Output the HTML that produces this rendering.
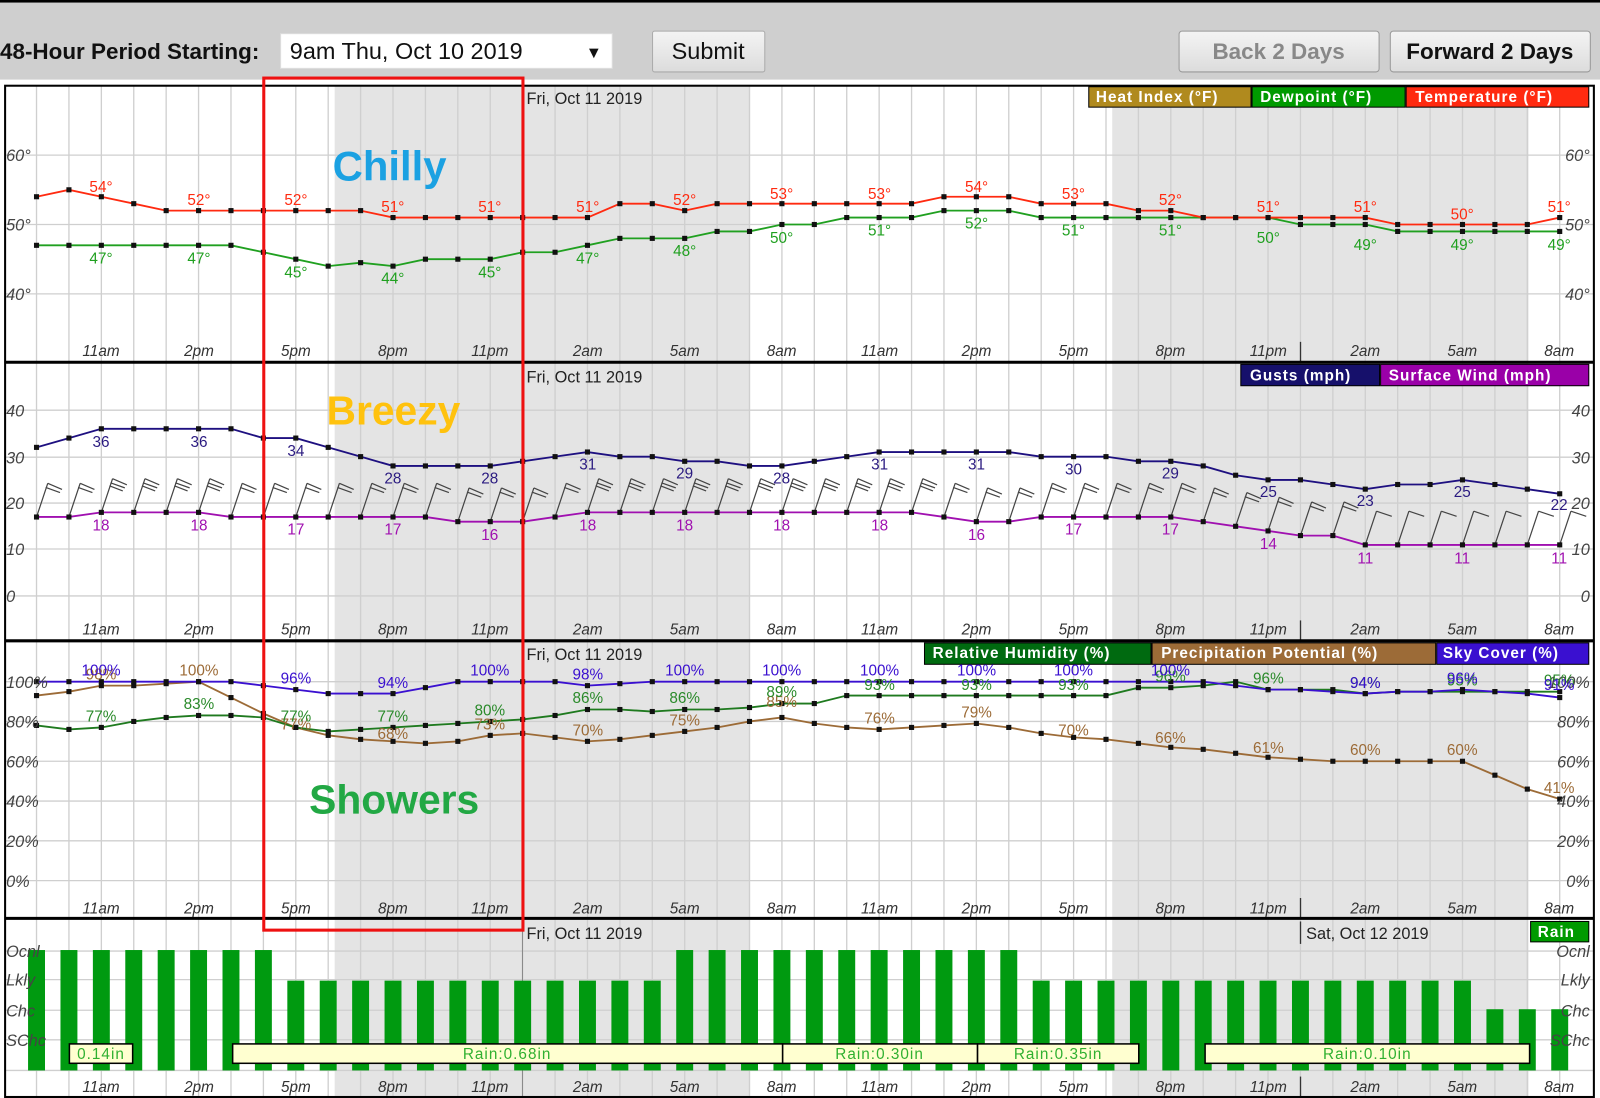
<!DOCTYPE html>
<html><head><meta charset="utf-8"><style>
html,body{margin:0;padding:0;background:#fff;overflow:hidden}
svg{display:block}
text{font-family:"Liberation Sans",sans-serif}
.tl{font-size:15px;font-style:italic;fill:#333;text-anchor:middle}
.ya{font-size:16px;font-style:italic;fill:#444}
.yr{font-size:16px;font-style:italic;fill:#444;text-anchor:end}
.lg{font-size:15px;font-weight:bold;fill:#fff;letter-spacing:1px}
.v{font-size:15px;text-anchor:middle}
.dt{font-size:16px;fill:#222}
</style></head><body>
<svg id="s" width="1600" height="1098" viewBox="0 0 1568 1076" preserveAspectRatio="none" xmlns="http://www.w3.org/2000/svg">
<defs><linearGradient id="bg" x1="0" y1="0" x2="0" y2="1"><stop offset="0" stop-color="#f4f4f4"/><stop offset="1" stop-color="#dcdcdc"/></linearGradient></defs>
<rect x="0" y="0" width="1568" height="78" fill="#cfcfcf"/>
<rect x="0" y="0" width="1568" height="2.5" fill="#000"/>
<text x="0" y="58" style="font-size:22px;font-weight:bold;fill:#111">48-Hour Period Starting:</text>
<rect x="275" y="33" width="325" height="34" fill="#fff" stroke="#ddd"/>
<text x="284" y="58" style="font-size:23px;fill:#111">9am Thu, Oct 10 2019</text>
<text x="574" y="57" style="font-size:16px;fill:#111">▼</text>
<rect x="639.5" y="30.5" width="110" height="40" rx="2" fill="url(#bg)" stroke="#aaa"/>
<text x="694" y="58" style="font-size:23px;fill:#111;text-anchor:middle">Submit</text>
<rect x="1155.5" y="30.5" width="196" height="40" rx="3" fill="url(#bg)" stroke="#999"/>
<text x="1253" y="58" style="font-size:22px;fill:#888;text-anchor:middle;font-weight:bold">Back 2 Days</text>
<rect x="1362.5" y="30.5" width="196" height="40" rx="3" fill="url(#bg)" stroke="#999"/>
<text x="1460" y="58" style="font-size:22px;fill:#111;text-anchor:middle;font-weight:bold">Forward 2 Days</text>

<g id="shapes"></g>

<text class="dt" x="516" y="102">Fri, Oct 11 2019</text>
<text class="dt" x="516" y="375">Fri, Oct 11 2019</text>
<text class="dt" x="516" y="647">Fri, Oct 11 2019</text>
<text class="dt" x="516" y="920">Fri, Oct 11 2019</text>
<text class="dt" x="1280" y="920">Sat, Oct 12 2019</text>

<rect x="1067" y="85" width="159" height="20" fill="#b08a1e" stroke="#000"/><text class="lg" x="1074" y="100">Heat Index (°F)</text>
<rect x="1227" y="85" width="150" height="20" fill="#009a00" stroke="#000"/><text class="lg" x="1235" y="100">Dewpoint (°F)</text>
<rect x="1378" y="85" width="179" height="20" fill="#ff2a10" stroke="#000"/><text class="lg" x="1387" y="100">Temperature (°F)</text>
<rect x="1216" y="357" width="136" height="21" fill="#16106b" stroke="#000"/><text class="lg" x="1225" y="373">Gusts (mph)</text>
<rect x="1353" y="357" width="204" height="21" fill="#9a00a8" stroke="#000"/><text class="lg" x="1361" y="373">Surface Wind (mph)</text>
<rect x="906" y="630" width="222" height="21" fill="#006a10" stroke="#000"/><text class="lg" x="914" y="645">Relative Humidity (%)</text>
<rect x="1129" y="630" width="278" height="21" fill="#9c6b37" stroke="#000"/><text class="lg" x="1138" y="645">Precipitation Potential (%)</text>
<rect x="1408" y="630" width="149" height="21" fill="#3a10d0" stroke="#000"/><text class="lg" x="1414" y="645">Sky Cover (%)</text>
<rect x="1500" y="903" width="57" height="20" fill="#009a00" stroke="#000"/><text class="lg" x="1507" y="918">Rain</text>

<g>
<text class="ya" x="6" y="158">60°</text><text class="ya" x="6" y="226">50°</text><text class="ya" x="6" y="294">40°</text>
<text class="yr" x="1558" y="158">60°</text><text class="yr" x="1558" y="226">50°</text><text class="yr" x="1558" y="294">40°</text>
<text class="ya" x="6" y="408">40</text><text class="ya" x="6" y="454">30</text><text class="ya" x="6" y="499">20</text><text class="ya" x="6" y="544">10</text><text class="ya" x="6" y="590">0</text>
<text class="yr" x="1558" y="408">40</text><text class="yr" x="1558" y="454">30</text><text class="yr" x="1558" y="499">20</text><text class="yr" x="1558" y="544">10</text><text class="yr" x="1558" y="590">0</text>
<text class="ya" x="6" y="674">100%</text><text class="ya" x="6" y="713">80%</text><text class="ya" x="6" y="752">60%</text><text class="ya" x="6" y="791">40%</text><text class="ya" x="6" y="830">20%</text><text class="ya" x="6" y="869">0%</text>
<text class="yr" x="1558" y="674">100%</text><text class="yr" x="1558" y="713">80%</text><text class="yr" x="1558" y="752">60%</text><text class="yr" x="1558" y="791">40%</text><text class="yr" x="1558" y="830">20%</text><text class="yr" x="1558" y="869">0%</text>
<text class="ya" x="6" y="938">Ocnl</text><text class="ya" x="6" y="966">Lkly</text><text class="ya" x="6" y="996">Chc</text><text class="ya" x="6" y="1025">SChc</text>
<text class="yr" x="1558" y="938">Ocnl</text><text class="yr" x="1558" y="966">Lkly</text><text class="yr" x="1558" y="996">Chc</text><text class="yr" x="1558" y="1025">SChc</text>
</g>

<g>
<text class="tl" x="99" y="349">11am</text><text class="tl" x="195" y="349">2pm</text><text class="tl" x="290" y="349">5pm</text><text class="tl" x="385" y="349">8pm</text><text class="tl" x="480" y="349">11pm</text><text class="tl" x="576" y="349">2am</text><text class="tl" x="671" y="349">5am</text><text class="tl" x="766" y="349">8am</text><text class="tl" x="862" y="349">11am</text><text class="tl" x="957" y="349">2pm</text><text class="tl" x="1052" y="349">5pm</text><text class="tl" x="1147" y="349">8pm</text><text class="tl" x="1243" y="349">11pm</text><text class="tl" x="1338" y="349">2am</text><text class="tl" x="1433" y="349">5am</text><text class="tl" x="1528" y="349">8am</text>
<text class="tl" x="99" y="622">11am</text><text class="tl" x="195" y="622">2pm</text><text class="tl" x="290" y="622">5pm</text><text class="tl" x="385" y="622">8pm</text><text class="tl" x="480" y="622">11pm</text><text class="tl" x="576" y="622">2am</text><text class="tl" x="671" y="622">5am</text><text class="tl" x="766" y="622">8am</text><text class="tl" x="862" y="622">11am</text><text class="tl" x="957" y="622">2pm</text><text class="tl" x="1052" y="622">5pm</text><text class="tl" x="1147" y="622">8pm</text><text class="tl" x="1243" y="622">11pm</text><text class="tl" x="1338" y="622">2am</text><text class="tl" x="1433" y="622">5am</text><text class="tl" x="1528" y="622">8am</text>
<text class="tl" x="99" y="895">11am</text><text class="tl" x="195" y="895">2pm</text><text class="tl" x="290" y="895">5pm</text><text class="tl" x="385" y="895">8pm</text><text class="tl" x="480" y="895">11pm</text><text class="tl" x="576" y="895">2am</text><text class="tl" x="671" y="895">5am</text><text class="tl" x="766" y="895">8am</text><text class="tl" x="862" y="895">11am</text><text class="tl" x="957" y="895">2pm</text><text class="tl" x="1052" y="895">5pm</text><text class="tl" x="1147" y="895">8pm</text><text class="tl" x="1243" y="895">11pm</text><text class="tl" x="1338" y="895">2am</text><text class="tl" x="1433" y="895">5am</text><text class="tl" x="1528" y="895">8am</text>
<text class="tl" x="99" y="1070">11am</text><text class="tl" x="195" y="1070">2pm</text><text class="tl" x="290" y="1070">5pm</text><text class="tl" x="385" y="1070">8pm</text><text class="tl" x="480" y="1070">11pm</text><text class="tl" x="576" y="1070">2am</text><text class="tl" x="671" y="1070">5am</text><text class="tl" x="766" y="1070">8am</text><text class="tl" x="862" y="1070">11am</text><text class="tl" x="957" y="1070">2pm</text><text class="tl" x="1052" y="1070">5pm</text><text class="tl" x="1147" y="1070">8pm</text><text class="tl" x="1243" y="1070">11pm</text><text class="tl" x="1338" y="1070">2am</text><text class="tl" x="1433" y="1070">5am</text><text class="tl" x="1528" y="1070">8am</text>
</g>

<g class="v" fill="#ff2a10">
<text x="99" y="188">54°</text><text x="195" y="201">52°</text><text x="290" y="201">52°</text><text x="385" y="208">51°</text><text x="480" y="208">51°</text><text x="576" y="208">51°</text><text x="671" y="201">52°</text><text x="766" y="195">53°</text><text x="862" y="195">53°</text><text x="957" y="188">54°</text><text x="1052" y="195">53°</text><text x="1147" y="201">52°</text><text x="1243" y="208">51°</text><text x="1338" y="208">51°</text><text x="1433" y="215">50°</text><text x="1528" y="208">51°</text>
</g>
<g class="v" fill="#20a020">
<text x="99" y="258">47°</text><text x="195" y="258">47°</text><text x="290" y="272">45°</text><text x="385" y="278">44°</text><text x="480" y="272">45°</text><text x="576" y="258">47°</text><text x="671" y="251">48°</text><text x="766" y="238">50°</text><text x="862" y="231">51°</text><text x="957" y="224">52°</text><text x="1052" y="231">51°</text><text x="1147" y="231">51°</text><text x="1243" y="238">50°</text><text x="1338" y="245">49°</text><text x="1433" y="245">49°</text><text x="1528" y="245">49°</text>
</g>
<g class="v" fill="#2a1a80">
<text x="99" y="438">36</text><text x="195" y="438">36</text><text x="290" y="447">34</text><text x="385" y="474">28</text><text x="480" y="474">28</text><text x="576" y="460">31</text><text x="671" y="469">29</text><text x="766" y="474">28</text><text x="862" y="460">31</text><text x="957" y="460">31</text><text x="1052" y="465">30</text><text x="1147" y="469">29</text><text x="1243" y="487">25</text><text x="1338" y="496">23</text><text x="1433" y="487">25</text><text x="1528" y="500">22</text>
</g>
<g class="v" fill="#a010b0">
<text x="99" y="520">18</text><text x="195" y="520">18</text><text x="290" y="524">17</text><text x="385" y="524">17</text><text x="480" y="529">16</text><text x="576" y="520">18</text><text x="671" y="520">18</text><text x="766" y="520">18</text><text x="862" y="520">18</text><text x="957" y="529">16</text><text x="1052" y="524">17</text><text x="1147" y="524">17</text><text x="1243" y="538">14</text><text x="1338" y="552">11</text><text x="1433" y="552">11</text><text x="1528" y="552">11</text>
</g>
<g class="v" fill="#9c6b37">
<text x="99" y="666">98%</text><text x="195" y="662">100%</text><text x="290" y="715">77%</text><text x="385" y="724">68%</text><text x="480" y="715">73%</text><text x="576" y="721">70%</text><text x="671" y="711">75%</text><text x="766" y="693">85%</text><text x="862" y="709">76%</text><text x="957" y="703">79%</text><text x="1052" y="721">70%</text><text x="1147" y="728">66%</text><text x="1243" y="738">61%</text><text x="1338" y="740">60%</text><text x="1433" y="740">60%</text><text x="1528" y="777">41%</text>
</g>
<g class="v" fill="#2a8a2a">
<text x="99" y="707">77%</text><text x="195" y="695">83%</text><text x="290" y="707">77%</text><text x="385" y="707">77%</text><text x="480" y="701">80%</text><text x="576" y="689">86%</text><text x="671" y="689">86%</text><text x="766" y="683">89%</text><text x="862" y="676">93%</text><text x="957" y="676">93%</text><text x="1052" y="676">93%</text><text x="1147" y="668">96%</text><text x="1243" y="670">96%</text><text x="1338" y="674">94%</text><text x="1433" y="672">95%</text><text x="1528" y="672">95%</text>
</g>
<g class="v" fill="#3a10d0">
<text x="99" y="662">100%</text><text x="290" y="670">96%</text><text x="385" y="674">94%</text><text x="480" y="662">100%</text><text x="576" y="666">98%</text><text x="671" y="662">100%</text><text x="766" y="662">100%</text><text x="862" y="662">100%</text><text x="957" y="662">100%</text><text x="1052" y="662">100%</text><text x="1147" y="662">100%</text><text x="1338" y="674">94%</text><text x="1433" y="670">96%</text><text x="1528" y="676">91%</text>
</g>

<rect x="68" y="1023" width="62" height="19" fill="#ffffd0" stroke="#000" stroke-width="1.5"/><text x="99" y="1038" style="font-size:15px;fill:#30b030;text-anchor:middle;letter-spacing:1px">0.14in</text>
<rect x="228" y="1023" width="539" height="19" fill="#ffffd0" stroke="#000" stroke-width="1.5"/><text x="497" y="1038" style="font-size:15px;fill:#30b030;text-anchor:middle;letter-spacing:1px">Rain:0.68in</text>
<rect x="767" y="1023" width="191" height="19" fill="#ffffd0" stroke="#000" stroke-width="1.5"/><text x="862" y="1038" style="font-size:15px;fill:#30b030;text-anchor:middle;letter-spacing:1px">Rain:0.30in</text>
<rect x="958" y="1023" width="158" height="19" fill="#ffffd0" stroke="#000" stroke-width="1.5"/><text x="1037" y="1038" style="font-size:15px;fill:#30b030;text-anchor:middle;letter-spacing:1px">Rain:0.35in</text>
<rect x="1181" y="1023" width="318" height="19" fill="#ffffd0" stroke="#000" stroke-width="1.5"/><text x="1340" y="1038" style="font-size:15px;fill:#30b030;text-anchor:middle;letter-spacing:1px">Rain:0.10in</text>

<rect x="258.5" y="76.5" width="254" height="835" fill="none" stroke="#ee1111" stroke-width="3"/>
<text x="326" y="177" style="font-size:41px;font-weight:bold;fill:#1ba1e2">Chilly</text>
<text x="320" y="416" style="font-size:40px;font-weight:bold;fill:#ffc20e">Breezy</text>
<text x="303" y="797" style="font-size:40px;font-weight:bold;fill:#22a844">Showers</text>
</svg>
<script>
(function(){
var NS="http://www.w3.org/2000/svg",g=document.getElementById("shapes");
function el(n,a){var e=document.createElementNS(NS,n);for(var k in a)e.setAttribute(k,a[k]);g.appendChild(e);return e;}
function X(k){return 35.8+31.76*k;}
var panels=[[84,355],[355,628],[628,900],[900,1075]];
el("rect",{x:5,y:84,width:1557,height:991,fill:"#fff"});
panels.forEach(function(p){
 el("rect",{x:328,y:p[0],width:407,height:p[1]-p[0],fill:"#e4e4e4"});
 el("rect",{x:1090,y:p[0],width:408,height:p[1]-p[0],fill:"#e4e4e4"});
 for(var k=0;k<48;k++)el("line",{x1:X(k),x2:X(k),y1:p[0],y2:p[1],stroke:"#cfcfcf","stroke-width":1.3});
});
[152,220,288,402,448,493,538,584,668,707,746,785,824,863,932,960,990,1019,1049].forEach(function(y){
 el("line",{x1:5,x2:1562,y1:y,y2:y,stroke:"#cfcfcf","stroke-width":1.3});});
[[335,355],[608,628],[880,900],[1055,1075],[903,925]].forEach(function(r){
 el("line",{x1:1274.5,x2:1274.5,y1:r[0],y2:r[1],stroke:"#333","stroke-width":1.3});});
el("line",{x1:512,x2:512,y1:84,y2:1075,stroke:"#888","stroke-width":1});
for(var k=0;k<48;k++){var t=(k<8||(k>=20&&k<=30))?931:(k>=45?989:961);
 el("rect",{x:X(k)-8.3,y:t,width:16.6,height:1049-t,fill:"#009a10"});}
function series(arr,yf,col,mk){
 var pts=arr.map(function(v,k){return X(k)+","+yf(v).toFixed(1);}).join(" ");
 el("polyline",{points:pts,fill:"none",stroke:col,"stroke-width":1.8});
 if(mk)arr.forEach(function(v,k){el("rect",{x:X(k)-2.5,y:yf(v)-2.5,width:5,height:5,fill:"#111"});});
}
var T=[54,55,54,53,52,52,52,52,52,52,52,51,51,51,51,51,51,51,53,53,52,53,53,53,53,53,53,53,54,54,54,53,53,53,52,52,51,51,51,51,51,51,50,50,50,50,50,51];
var D=[47,47,47,47,47,47,47,46,45,44,44.5,44,45,45,45,46,46,47,48,48,48,49,49,50,50,51,51,51,52,52,52,51,51,51,51,51,51,51,51,50,50,50,49,49,49,49,49,49];
var f1=function(v){return 220-(v-50)*6.8;};
series(D,f1,"#20a020",true);series(T,f1,"#ff2a10",true);
var G=[32,34,36,36,36,36,36,34,34,32,30,28,28,28,28,29,30,31,30,30,29,29,28,28,29,30,31,31,31,31,31,30,30,30,29,29,28,26,25,25,24,23,24,24,25,24,23,22];
var W=[17,17,18,18,18,18,17,17,17,17,17,17,17,16,16,16,17,18,18,18,18,18,18,18,18,18,18,18,17,16,16,17,17,17,17,17,16,15,14,13,13,11,11,11,11,11,11,11];
var f2=function(v){return 584-v*4.55;};
W.forEach(function(v,k){var x=X(k),y=f2(v),tx=x+11,ty=y-33,c="#444";
 el("line",{x1:x,y1:y,x2:tx,y2:ty,stroke:c,"stroke-width":1.2});
 if(k<41){el("polyline",{points:tx+","+ty+" "+(tx+14)+","+(ty+6),fill:"none",stroke:c,"stroke-width":1.2});
  el("polyline",{points:(tx-2)+","+(ty+4)+" "+(tx+12)+","+(ty+9),fill:"none",stroke:c,"stroke-width":1.2});
  if(v>=18)el("polyline",{points:(tx-3)+","+(ty+7)+" "+(tx+10)+","+(ty+12),fill:"none",stroke:c,"stroke-width":1.2});}
 else el("polyline",{points:tx+","+ty+" "+(tx+15)+","+(ty+5),fill:"none",stroke:c,"stroke-width":1.2});
});
series(G,f2,"#1e1080",true);series(W,f2,"#a010b0",true);
var S=[100,100,100,100,100,100,100,98,96,94,94,94,97,100,100,100,100,98,99,100,100,100,100,100,100,100,100,100,100,100,100,100,100,100,100,100,100,98,96,96,95,94,95,95,96,95,94,92];
var R=[78,76,77,80,82,83,83,82,77,75,76,77,78,79,80,81,83,86,86,85,86,86,87,89,89,93,93,93,93,93,93,93,93,93,97,97,98,100,96,96,96,94,95,95,95,95,95,95];
var P=[93,95,98,98,99,100,92,84,77,73,71,70,69,70,73,74,72,70,71,73,75,77,80,82,79,77,76,77,78,79,77,74,72,71,69,67,66,64,62,61,60,60,60,60,60,53,46,41];
var f3=function(v){return 863-v*1.95;};
series(P,f3,"#9c6b37",true);series(R,f3,"#1f7a1f",true);series(S,f3,"#3a10d0",true);
el("rect",{x:5,y:84,width:1557,height:991,fill:"none",stroke:"#000","stroke-width":2});
[355,628,900].forEach(function(y){el("line",{x1:5,x2:1562,y1:y,y2:y,stroke:"#000","stroke-width":3});});
})();
</script>
</body></html>
